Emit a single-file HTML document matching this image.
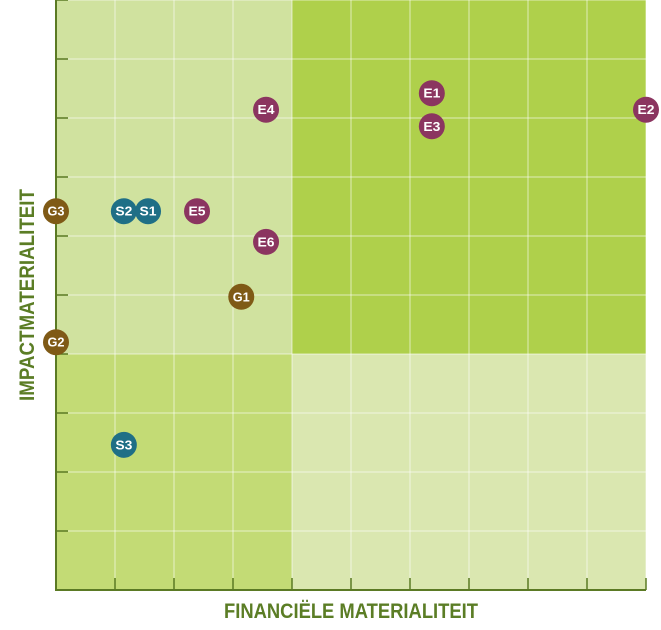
<!DOCTYPE html>
<html><head><meta charset="utf-8"><style>html,body{margin:0;padding:0;background:#fff}svg{display:block}</style></head>
<body>
<svg id="chart" width="661" height="630" xmlns="http://www.w3.org/2000/svg" font-family="Liberation Sans, sans-serif"></svg>
<script>
const labels = ["E1","E3","E2","E4","G3","S2","S1","E5","E6","G1","G2","S3"];
const finVals = [6.37,6.37,10,3.56,0,1.15,1.56,2.39,3.56,3.14,0,1.15];
const impVals = [8.42,7.86,8.14,8.14,6.42,6.42,6.42,6.42,5.9,4.97,4.2,2.46];
const groups = ["E","E","E","E","G","S","S","E","E","G","G","S"];
const xTicks = [0,1,2,3,4,5,6,7,8,9,10];
const yTicks = [0,1,2,3,4,5,6,7,8,9,10];
const threshold = 4;
const NS="http://www.w3.org/2000/svg";
const svg=document.getElementById('chart');
const X0=56,X1=646,Y0=590,Y1=0;
const sx=v=>X0+(X1-X0)*v/10, sy=v=>Y0-(Y0-Y1)*v/10;
function mk(t,a,p){const e=document.createElementNS(NS,t);for(const k in a)e.setAttribute(k,a[k]);(p||svg).appendChild(e);return e;}
const quads=[[0,threshold,threshold,10,'#d0e29f','quadrant-top-left'],[threshold,10,threshold,10,'#afd04b','quadrant-top-right'],[0,threshold,0,threshold,'#c3db75','quadrant-bottom-left'],[threshold,10,0,threshold,'#dae7b0','quadrant-bottom-right']];
quads.forEach(q=>{const r=mk('rect',{x:sx(q[0]),y:sy(q[3]),width:sx(q[1])-sx(q[0]),height:sy(q[2])-sy(q[3]),fill:q[4]});

});
xTicks.forEach(t=>{const l=mk('line',{x1:sx(t),x2:sx(t),y1:Y1,y2:Y0,stroke:'#fff','stroke-opacity':0.6,'stroke-width':1});


const k=mk('line',{x1:sx(t),x2:sx(t),y1:Y0,y2:Y0-12,stroke:'#5b7a24','stroke-width':1.5});

});
yTicks.forEach(t=>{const l=mk('line',{x1:X0,x2:X1,y1:sy(t),y2:sy(t),stroke:'#fff','stroke-opacity':0.6,'stroke-width':1});


const k=mk('line',{x1:X0,x2:X0+12,y1:sy(t),y2:sy(t),stroke:'#5b7a24','stroke-width':1.5});

});
const ax=mk('path',{d:`M${X0} ${Y1} V${Y0} H${X1}`,fill:'none',stroke:'#5b7a24','stroke-width':2});


const col={E:'#8b3560',S:'#1f6f86',G:'#7f5a16'};
labels.forEach((lb,i)=>{const g=mk('g',{});


mk('circle',{cx:sx(finVals[i]),cy:sy(impVals[i]),r:13,fill:col[groups[i]]},g);
const t=mk('text',{x:sx(finVals[i]),y:sy(impVals[i])+4.5,'text-anchor':'middle','font-size':13,'font-weight':'bold',fill:'#fff',textLength:17,lengthAdjust:'spacingAndGlyphs'},g);t.textContent=lb;});
const xt=mk('text',{x:351,y:618,'text-anchor':'middle','font-size':21,'font-weight':'bold',fill:'#5b7d25',textLength:254,lengthAdjust:'spacingAndGlyphs'});xt.textContent='FINANCIËLE MATERIALITEIT';


const yt=mk('text',{x:0,y:0,'text-anchor':'middle','font-size':21,'font-weight':'bold',fill:'#5b7d25',textLength:212,lengthAdjust:'spacingAndGlyphs',transform:'translate(34,295) rotate(-90)'});yt.textContent='IMPACTMATERIALITEIT';


</script>
</body></html>
